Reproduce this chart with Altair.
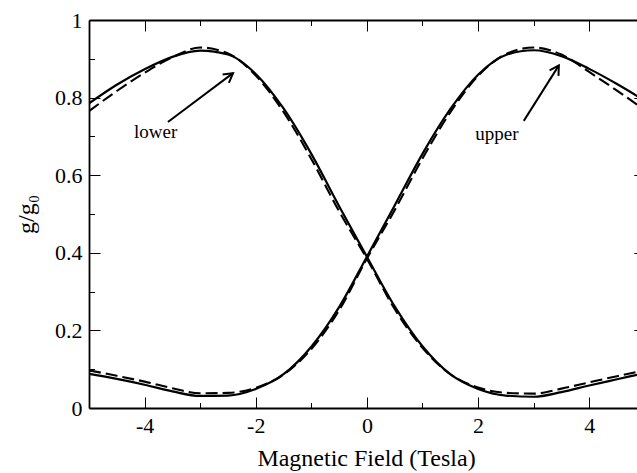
import altair as alt
import pandas as pd

FONT = "Liberation Serif"

# Magnetic field (Tesla) sample points
field_t = [-5.0, -4.5, -4.0, -3.5, -3.0, -2.5, -2.0, -1.5, -1.0, -0.5, 0.0,
           0.5, 1.0, 1.5, 2.0, 2.5, 3.0, 3.5, 4.0, 4.5, 5.0]

# normalised conductance g/g0
lower_solid = [0.785, 0.833, 0.873, 0.905, 0.921, 0.911, 0.861, 0.772, 0.655, 0.520, 0.390,
               0.262, 0.159, 0.087, 0.049, 0.032, 0.029, 0.041, 0.058, 0.074, 0.090]
lower_dashed = [0.765, 0.817, 0.864, 0.904, 0.929, 0.914, 0.857, 0.763, 0.642, 0.507, 0.385,
                0.255, 0.155, 0.087, 0.053, 0.039, 0.037, 0.050, 0.066, 0.082, 0.097]
upper_solid = [0.088, 0.075, 0.060, 0.043, 0.031, 0.032, 0.049, 0.087, 0.158, 0.260, 0.390,
               0.522, 0.655, 0.770, 0.859, 0.910, 0.922, 0.907, 0.874, 0.835, 0.792]
upper_dashed = [0.097, 0.083, 0.068, 0.051, 0.038, 0.039, 0.052, 0.086, 0.152, 0.252, 0.385,
                0.510, 0.643, 0.762, 0.856, 0.912, 0.929, 0.911, 0.866, 0.818, 0.768]

# annotation labels and arrows (data coordinates)
note_text = ["lower", "upper"]
note_x = [-3.80, 2.34]
note_y = [0.697, 0.690]
arrow_x0 = [-3.58, 2.823]
arrow_y0 = [0.737, 0.740]
arrow_x1 = [-2.409, 3.454]
arrow_y1 = [0.863, 0.883]
arrow_angle = [53, 32]

X_MAJOR = [-4, -2, 0, 2, 4]
X_MINOR = [-3, -1, 1, 3]
Y_MAJOR = [0, 0.2, 0.4, 0.6, 0.8, 1]
Y_MAJOR_INNER = [0.2, 0.4, 0.6, 0.8]
Y_MINOR = [0.1, 0.3, 0.5, 0.7, 0.9]

rows = []
for name, style, vals in [("lower", "solid", lower_solid), ("lower", "dashed", lower_dashed),
                          ("upper", "solid", upper_solid), ("upper", "dashed", upper_dashed)]:
    for b, g in zip(field_t, vals):
        rows.append({"B": b, "g": g, "curve": name + "_" + style, "style": style})
curves = pd.DataFrame(rows)
solid = curves[curves["style"] == "solid"]
dashed = curves[curves["style"] == "dashed"]

notes = pd.DataFrame({"x": note_x, "y": note_y, "text": note_text})
arrows = pd.DataFrame({"x0": arrow_x0, "y0": arrow_y0, "x1": arrow_x1, "y1": arrow_y1,
                       "ang": arrow_angle})

xs = alt.Scale(domain=[-5, 4.86], nice=False, zero=False)
ys = alt.Scale(domain=[0, 1], nice=False, zero=False)

MAJ = 11
MIN = 5.5

def tick_axis(orient, values, size, offset):
    return alt.Axis(orient=orient, values=values, tickSize=size, offset=offset,
                    labels=False, domain=False, grid=False, title=None)

# solid curves: main bottom/left axes with labels and titles
solid_layer = alt.Chart(solid).mark_line(
    clip=True, color="black", strokeWidth=2.2, interpolate="monotone"
).encode(
    x=alt.X("B:Q", scale=xs, axis=alt.Axis(
        orient="bottom", values=X_MAJOR, tickSize=MAJ, offset=-MAJ, domain=False,
        labelExpr="'' + datum.value", labelPadding=7, labelFont=FONT, labelFontSize=22,
        title="Magnetic Field (Tesla)", titleFont=FONT, titlePadding=10, titleX=277)),
    y=alt.Y("g:Q", scale=ys, axis=alt.Axis(
        orient="left", values=Y_MAJOR, tickSize=MAJ, offset=-MAJ, domain=False,
        format=".1~f", labelPadding=7, labelFont=FONT, labelFontSize=22,
        title="g/g₀", titleFont=FONT, titlePadding=16)),
    detail="curve:N",
)

# dashed curves: carries the frame lines as grid lines
dashed_layer = alt.Chart(dashed).mark_line(
    clip=True, color="black", strokeWidth=2.1, strokeDash=[12, 5], interpolate="monotone"
).encode(
    x=alt.X("B:Q", scale=xs, axis=alt.Axis(
        orient="bottom", values=[-5], ticks=False, labels=False, domain=False,
        grid=True, gridColor="black", gridWidth=1.8, gridOpacity=1, title=None)),
    y=alt.Y("g:Q", scale=ys, axis=alt.Axis(
        orient="left", values=[0, 1], ticks=False, labels=False, domain=False,
        grid=True, gridColor="black", gridWidth=1.8, gridOpacity=1, title=None)),
    detail="curve:N",
)

shafts = alt.Chart(arrows).mark_rule(color="black", strokeWidth=2).encode(
    x=alt.X("x0:Q", scale=xs, axis=tick_axis("bottom", X_MINOR, MIN, -MIN)),
    y=alt.Y("y0:Q", scale=ys, axis=tick_axis("left", Y_MINOR, MIN, -MIN)),
    x2="x1:Q",
    y2="y1:Q",
)

heads = alt.Chart(arrows).mark_point(
    shape="M -0.5 0.866 L 0 0 L 0.5 0.866", size=440, filled=False,
    color="black", strokeWidth=2, opacity=1
).encode(
    x=alt.X("x1:Q", scale=xs, axis=tick_axis("top", X_MAJOR, MAJ, -MAJ)),
    y=alt.Y("y1:Q", scale=ys, axis=tick_axis("right", Y_MAJOR_INNER, MAJ, -3.2)),
    angle=alt.Angle("ang:Q", scale=None),
)

labels = alt.Chart(notes).mark_text(
    font=FONT, fontSize=19, color="black", align="center", baseline="alphabetic"
).encode(
    x=alt.X("x:Q", scale=xs, axis=tick_axis("top", X_MINOR, MIN, -MIN)),
    y=alt.Y("y:Q", scale=ys, axis=None),
    text="text:N",
)

chart = alt.layer(
    dashed_layer, solid_layer, shafts, heads, labels
).resolve_axis(
    x="independent", y="independent"
).properties(
    width=548, height=388,
    autosize=alt.AutoSizeParams(type="none"),
    padding={"left": 89, "top": 20, "right": 0, "bottom": 65},
    background="white",
).configure_view(
    stroke=None
).configure_axis(
    labelFont=FONT, labelFontSize=22, labelColor="black",
    titleFont=FONT, titleFontSize=24, titleFontWeight="normal", titleColor="black",
    tickColor="black", tickWidth=1, labelFlush=False, labelOverlap=False, labelBound=False,
)

chart.save("out.html", embed_options={"renderer": "svg", "actions": False})
